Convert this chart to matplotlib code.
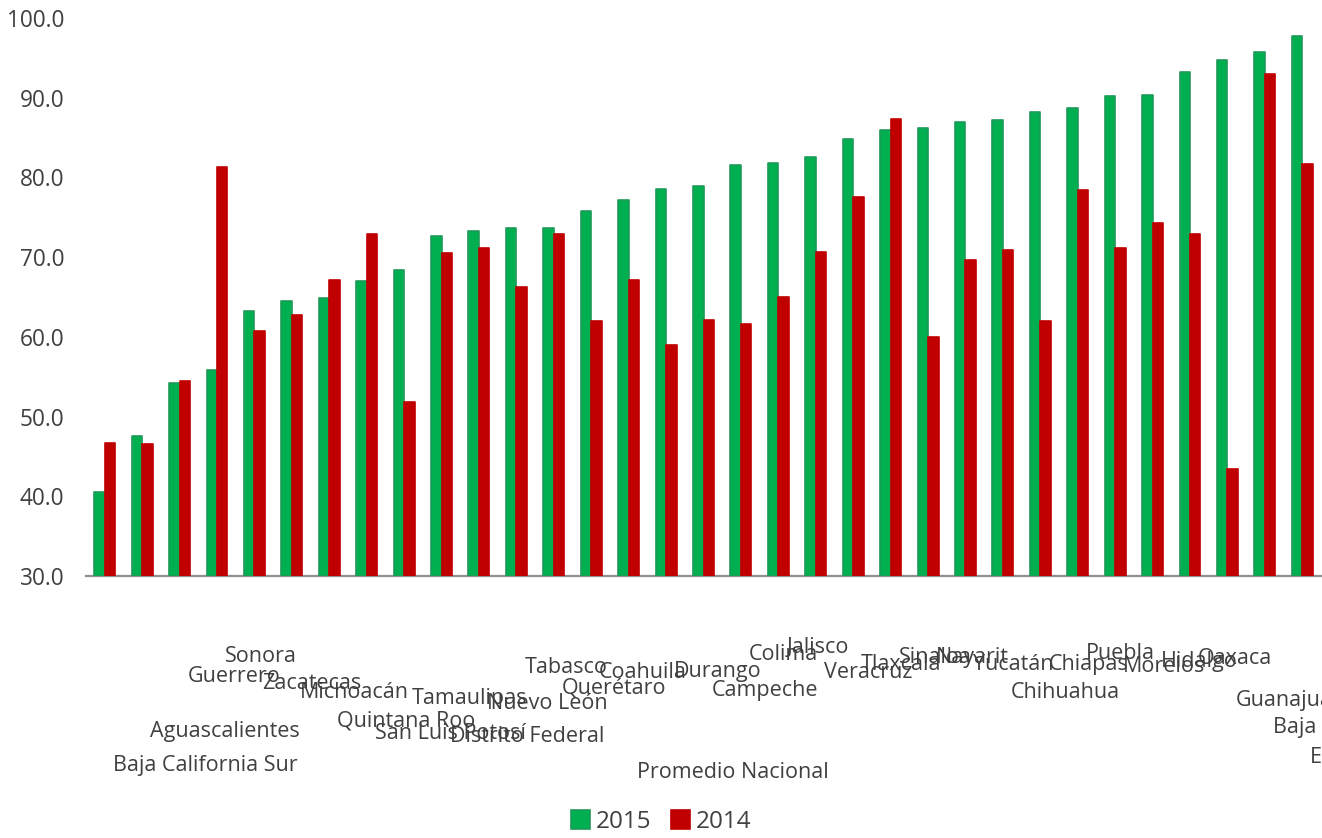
import matplotlib
matplotlib.use("Agg")
import matplotlib.pyplot as plt
import numpy as np

plt.rcParams['font.family'] = ['Open Sans', 'DejaVu Sans']

# Entidades ordenadas por el valor de 2015
states = [
    "Baja California Sur", "Aguascalientes", "Guerrero", "Sonora", "Zacatecas",
    "Michoacán", "Quintana Roo", "San Luis Potosí", "Tamaulipas", "Distrito Federal",
    "Nuevo León", "Tabasco", "Querétaro", "Coahuila", "Promedio Nacional",
    "Durango", "Campeche", "Colima", "Jalisco", "Veracruz", "Tlaxcala",
    "Sinaloa", "Nayarit", "Yucatán", "Chihuahua", "Chiapas", "Puebla",
    "Morelos", "Hidalgo", "Oaxaca", "Guanajuato", "Baja California",
    "Estado de México",
]
v2015 = [40.5, 47.6, 54.2, 55.9, 63.3, 64.5, 64.9, 67.0, 68.4, 72.7, 73.3,
         73.6, 73.7, 75.8, 77.2, 78.5, 78.9, 81.6, 81.8, 82.6, 84.8, 85.9,
         86.2, 87.0, 87.2, 88.2, 88.7, 90.2, 90.3, 93.2, 94.7, 95.7, 97.7]
v2014 = [46.7, 46.5, 54.5, 81.3, 60.7, 62.8, 67.1, 72.9, 51.8, 70.5, 71.1,
         66.2, 72.9, 62.0, 67.1, 59.0, 62.1, 61.6, 65.0, 70.7, 77.6, 87.3,
         60.0, 69.6, 70.9, 62.0, 78.4, 71.2, 74.3, 72.9, 43.4, 93.0, 81.7]
series_names = ["2015", "2014"]
yticks = [30, 40, 50, 60, 70, 80, 90, 100]

GREEN = "#00B050"
RED = "#C00000"
TEXT = "#404040"

W, H, DPI = 1322, 838, 100
fig = plt.figure(figsize=(W / DPI, H / DPI), dpi=DPI)
ax = fig.add_axes([86 / W, 1 - 576 / H, (1321 - 86) / W, (576 - 18) / H])

x = np.arange(len(states))
bw = 0.28
ax.bar(x - bw / 2, np.array(v2015) - 30, bw, bottom=30, color=GREEN,
       edgecolor="#1e9a58", linewidth=1.2, joinstyle="round", label=series_names[0])
ax.bar(x + bw / 2, np.array(v2014) - 30, bw, bottom=30, color=RED,
       edgecolor=RED, linewidth=1.2, joinstyle="round", label=series_names[1])

ax.set_xlim(-0.5, len(states) - 0.5)
ax.set_ylim(30, 100)
ax.set_yticks(yticks)
ax.set_yticklabels([f"{v:.1f}" for v in yticks])
ax.tick_params(axis="y", length=0, pad=15.5, labelsize=16.3, labelcolor=TEXT)
ax.tick_params(axis="x", length=0, labelbottom=False)
for side in ("top", "right", "left"):
    ax.spines[side].set_visible(False)
ax.spines["bottom"].set_color("#8f8f8f")
ax.spines["bottom"].set_linewidth(1.6)
ax.spines["bottom"].set_zorder(0.5)

# Category names hang below the axis, deeper for longer names
labels = []
for i, name in enumerate(states):
    t = ax.annotate(name, xy=(i, 30), xycoords="data", xytext=(9, -20),
                    textcoords="offset pixels", ha="left", va="center",
                    fontsize=15.5, color=TEXT, annotation_clip=False)
    labels.append(t)
fig.canvas.draw()
renderer = fig.canvas.get_renderer()
for t in labels:
    w = t.get_window_extent(renderer).width
    t.xyann = (8, -(11 + 0.968 * w))

leg = fig.legend(loc="center", bbox_to_anchor=(0.5, 1 - 822 / H), ncol=2,
                 frameon=False, fontsize=17.5, handlelength=0.78,
                 handleheight=0.8, handletextpad=0.25, columnspacing=0.8,
                 labelcolor=TEXT)

fig.savefig("out.png", dpi=DPI)
